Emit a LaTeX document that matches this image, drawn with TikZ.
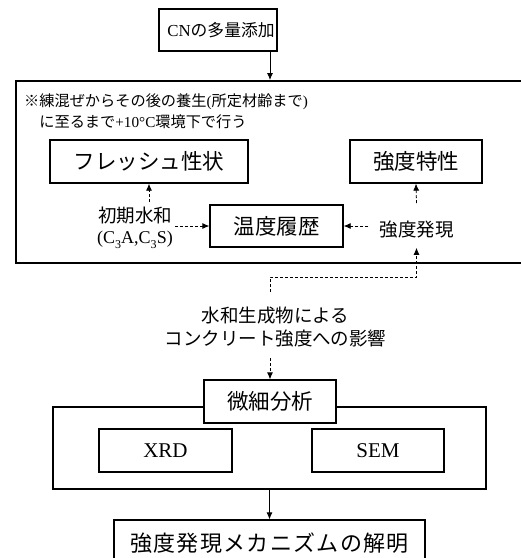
\documentclass[tikz,border=0pt]{standalone}
\usepackage{fontspec}
\setmainfont{Liberation Serif}
\newfontfamily\jp{Noto Sans CJK JP}
\usetikzlibrary{arrows.meta}
\newcommand\subn[1]{\raisebox{-0.25em}{\fontsize{12}{12}\selectfont #1}}
\tikzset{
  box/.style={draw, line width=1.3pt, fill=white, inner sep=0pt},
  bigbox/.style={draw, line width=1.9pt, inner sep=0pt},
  jbig/.style={font=\fontsize{21.5}{24}\selectfont\jp},
  jfinal/.style={font=\fontsize{22}{24}\selectfont\jp\addfontfeature{LetterSpace=6}},
  jmid/.style={font=\fontsize{18.5}{23}\selectfont\jp},
  dline/.style={line width=0.8pt, dash pattern=on 3pt off 2pt},
  sline/.style={line width=0.8pt},
  arr/.style={-{Latex[length=7pt,width=6pt]}},
}
\begin{document}
\begin{tikzpicture}[x=1pt,y=-1pt]
\useasboundingbox (0,0) rectangle (521,558);
% top box
\node[box, minimum width=118, minimum height=42, font=\fontsize{16.8}{20}\selectfont] (cn) at (218,30) {\hspace{6pt}CN{\jp の多量添加}};
% big box 1
\node[bigbox, anchor=north west, minimum width=520, minimum height=182] (big1) at (15,80) {};
\node[anchor=base west, align=left, inner sep=0pt, font=\fontsize{15.2}{21}\selectfont] (note) at (24,127.5)
  {{\jp ※練混ぜからその後の養生}({\jp 所定材齢まで})\\{\jp 　に至るまで}+10°C{\jp 環境下で行う}};
\node[box, jbig, minimum width=198, minimum height=43] (fresh) at (149,161.5) {フレッシュ性状};
\node[box, jbig, minimum width=132, minimum height=43] (kyodo) at (416,161.5) {強度特性};
\node[box, jbig, minimum width=133, minimum height=42] (ondo) at (276.5,226) {温度履歴};
\node[align=center, inner sep=2pt, font=\fontsize{18}{22}\selectfont] (shoki) at (135,228)
  {{\jp\fontsize{18.5}{22}\selectfont 初期水和}\\[-1pt](C\subn{3}A,C\subn{3}S)};
\node[jmid, inner sep=2pt] (hatsugen) at (416.5,230) {強度発現};
\coordinate (s1) at (fresh.south |- shoki.north);
\draw[dline,arr] ([yshift=3pt]s1) -- (fresh.south);
\draw[dline,arr] (shoki.east |- ondo.west) -- (ondo.west);
\draw[dline,arr] ([xshift=-9pt]hatsugen.west |- ondo.east) -- (ondo.east);
\draw[dline,arr] ([yshift=16pt]hatsugen.north) -- (kyodo.south);
\draw[sline,arr] (cn.south -| 270,0) -- (big1.north -| 270,0);
% influence text
\coordinate (c0) at (270,292);
\coordinate (c1) at (270,277);
\node[jmid, align=center] (eikyo) at (275.5,327) {水和生成物による\\コンクリート強度への影響};
\draw[dline,arr] (c0) -- (c1) -| ([yshift=-7pt]hatsugen.south);
% analysis
\node[bigbox, minimum width=433, minimum height=82] (big2) at (269.5,448) {};
\node[box, jbig, minimum width=132, minimum height=43] (bisai) at (270,401.5) {微細分析};
\coordinate (c2) at (270,358);
\draw[dline,arr] (c2) -- (bisai.north);
\node[box, minimum width=133, minimum height=43, font=\fontsize{21}{24}\selectfont] (xrd) at (165.5,450.5) {XRD};
\node[box, minimum width=132, minimum height=43, font=\fontsize{21}{24}\selectfont] (sem) at (378,450.5) {SEM};
\node[box, jfinal, minimum width=311, minimum height=46] (final) at (269.5,543) {強度発現メカニズムの解明};
\draw[sline,arr] (big2.south -| final.north) -- (final.north);
\end{tikzpicture}
\end{document}
